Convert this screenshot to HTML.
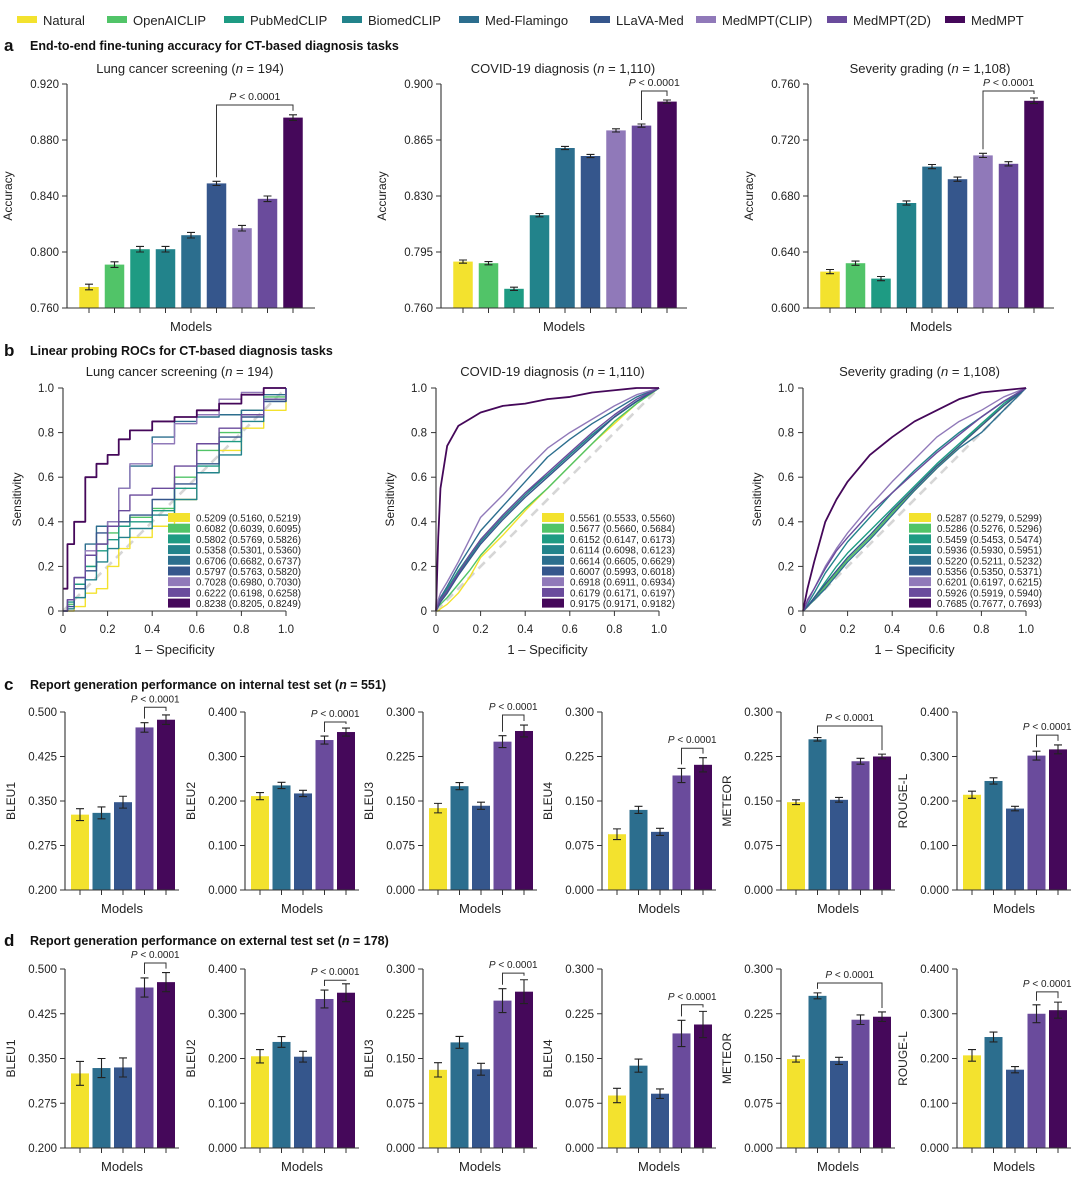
<!DOCTYPE html>
<html><head><meta charset="utf-8"><style>
body{margin:0;background:#fff;width:1080px;height:1180px;overflow:hidden}
svg{display:block;font-family:"Liberation Sans",sans-serif}
</style></head><body>
<svg id="fig" width="1080" height="1180" viewBox="0 0 1080 1180"></svg>
<script>
// ---------- DATA ----------
const modelNames = ["Natural","OpenAICLIP","PubMedCLIP","BiomedCLIP","Med-Flamingo","LLaVA-Med","MedMPT(CLIP)","MedMPT(2D)","MedMPT"];
const modelColors = ["#f3e22e","#51c468","#1e9b83","#22838b","#2c6e8e","#35568c","#9079b9","#6a4b9c","#45085a"];
// panel a
const lungAcc = [0.775,0.791,0.802,0.802,0.812,0.849,0.817,0.838,0.896];
const lungErr = [0.002,0.002,0.002,0.002,0.002,0.0015,0.002,0.002,0.002];
const covidAcc = [0.789,0.788,0.772,0.818,0.860,0.855,0.871,0.874,0.889];
const covidErr = [0.001,0.001,0.001,0.001,0.001,0.001,0.001,0.001,0.001];
const sevAcc = [0.626,0.632,0.621,0.675,0.701,0.692,0.709,0.703,0.748];
const sevErr = [0.0015,0.0015,0.0015,0.0015,0.0015,0.0015,0.0015,0.0015,0.002];
// panel c/d (models: Natural, Med-Flamingo, LLaVA-Med, MedMPT(2D), MedMPT)
const reportModels = [0,4,5,7,8];
const cBLEU1=[0.327,0.330,0.348,0.474,0.487], cBLEU1e=[0.010,0.010,0.010,0.008,0.008];
const cBLEU2=[0.211,0.235,0.217,0.337,0.355], cBLEU2e=[0.008,0.007,0.007,0.009,0.009];
const cBLEU3=[0.138,0.175,0.142,0.250,0.268], cBLEU3e=[0.008,0.006,0.006,0.010,0.010];
const cBLEU4=[0.094,0.135,0.098,0.193,0.211], cBLEU4e=[0.009,0.006,0.006,0.012,0.012];
const cMET=[0.148,0.254,0.152,0.217,0.225], cMETe=[0.004,0.003,0.004,0.005,0.004];
const cROU=[0.214,0.245,0.183,0.302,0.316], cROUe=[0.008,0.007,0.005,0.010,0.010];
const dBLEU1=[0.325,0.334,0.335,0.469,0.478], dBLEU1e=[0.020,0.016,0.016,0.016,0.016];
const dBLEU2=[0.205,0.237,0.204,0.333,0.347], dBLEU2e=[0.015,0.012,0.012,0.020,0.020];
const dBLEU3=[0.131,0.177,0.132,0.247,0.262], dBLEU3e=[0.012,0.010,0.010,0.020,0.020];
const dBLEU4=[0.088,0.138,0.091,0.192,0.207], dBLEU4e=[0.012,0.011,0.008,0.022,0.022];
const dMET=[0.149,0.255,0.146,0.215,0.220], dMETe=[0.005,0.005,0.006,0.008,0.008];
const dROU=[0.207,0.248,0.175,0.300,0.308], dROUe=[0.013,0.011,0.007,0.020,0.018];
// panel b ROC
const lungFpr=[0,.02,.05,.1,.15,.2,.25,.3,.4,.5,.6,.7,.8,.9,1];
const lungTpr=[
 [0,0,0.02,0.08,0.1,0.2,0.28,0.33,0.38,0.5,0.62,0.72,0.82,0.9,1],
 [0,0.03,0.1,0.2,0.3,0.35,0.4,0.42,0.46,0.6,0.72,0.8,0.9,0.96,1],
 [0,0.04,0.12,0.2,0.27,0.32,0.38,0.4,0.45,0.55,0.65,0.76,0.88,0.95,1],
 [0,0.01,0.06,0.14,0.22,0.28,0.33,0.37,0.43,0.5,0.62,0.7,0.85,0.94,1],
 [0,0.05,0.15,0.3,0.38,0.4,0.55,0.65,0.78,0.85,0.87,0.88,0.9,0.97,1],
 [0,0.02,0.1,0.18,0.35,0.38,0.4,0.43,0.5,0.57,0.66,0.78,0.87,0.94,1],
 [0,0.05,0.15,0.27,0.3,0.4,0.55,0.66,0.75,0.84,0.88,0.95,0.98,1,1],
 [0,0.05,0.15,0.25,0.3,0.38,0.45,0.52,0.55,0.65,0.75,0.82,0.88,0.95,1],
 [0.1,0.3,0.4,0.6,0.66,0.7,0.77,0.81,0.85,0.87,0.9,0.93,0.97,1,1]];
const lungAuc=["0.5209 (0.5160, 0.5219)","0.6082 (0.6039, 0.6095)","0.5802 (0.5769, 0.5826)","0.5358 (0.5301, 0.5360)","0.6706 (0.6682, 0.6737)","0.5797 (0.5763, 0.5820)","0.7028 (0.6980, 0.7030)","0.6222 (0.6198, 0.6258)","0.8238 (0.8205, 0.8249)"];
const smoothFpr=[0,.01,.02,.05,.1,.15,.2,.3,.4,.5,.6,.7,.8,.9,1];
const covidTpr=[
 [0,0,0.01,0.03,0.08,0.15,0.24,0.34,0.45,0.55,0.65,0.75,0.84,0.93,1],
 [0,0.02,0.03,0.06,0.12,0.18,0.25,0.36,0.46,0.55,0.65,0.75,0.85,0.93,1],
 [0,0.03,0.05,0.1,0.18,0.25,0.32,0.43,0.53,0.61,0.7,0.79,0.87,0.94,1],
 [0,0.03,0.05,0.09,0.17,0.24,0.31,0.42,0.52,0.61,0.7,0.79,0.87,0.94,1],
 [0,0.04,0.06,0.11,0.2,0.28,0.36,0.47,0.58,0.69,0.77,0.84,0.9,0.96,1],
 [0,0.02,0.04,0.08,0.16,0.23,0.3,0.41,0.51,0.6,0.69,0.78,0.87,0.94,1],
 [0,0.05,0.08,0.13,0.22,0.32,0.42,0.52,0.63,0.73,0.8,0.86,0.92,0.97,1],
 [0,0.03,0.05,0.09,0.17,0.25,0.32,0.43,0.53,0.62,0.71,0.8,0.88,0.95,1],
 [0,0.33,0.55,0.74,0.83,0.86,0.89,0.92,0.93,0.95,0.96,0.98,0.99,1,1]];
const covidAuc=["0.5561 (0.5533, 0.5560)","0.5677 (0.5660, 0.5684)","0.6152 (0.6147, 0.6173)","0.6114 (0.6098, 0.6123)","0.6614 (0.6605, 0.6629)","0.6007 (0.5993, 0.6018)","0.6918 (0.6911, 0.6934)","0.6179 (0.6171, 0.6197)","0.9175 (0.9171, 0.9182)"];
const sevTpr=[
 [0,0.01,0.02,0.05,0.11,0.17,0.23,0.33,0.44,0.54,0.64,0.74,0.83,0.92,1],
 [0,0.01,0.02,0.05,0.11,0.17,0.23,0.33,0.44,0.55,0.65,0.74,0.84,0.92,1],
 [0,0.01,0.02,0.06,0.13,0.2,0.26,0.36,0.46,0.56,0.66,0.75,0.84,0.93,1],
 [0,0.01,0.03,0.08,0.17,0.24,0.31,0.42,0.53,0.63,0.72,0.8,0.87,0.94,1],
 [0,0.01,0.02,0.05,0.1,0.16,0.22,0.32,0.43,0.54,0.64,0.73,0.8,0.9,1],
 [0,0.01,0.02,0.06,0.12,0.18,0.24,0.34,0.45,0.55,0.65,0.74,0.83,0.92,1],
 [0,0.02,0.04,0.1,0.2,0.28,0.35,0.47,0.58,0.68,0.78,0.85,0.9,0.96,1],
 [0,0.02,0.05,0.1,0.19,0.27,0.33,0.44,0.53,0.62,0.71,0.79,0.87,0.94,1],
 [0,0.05,0.1,0.22,0.4,0.5,0.58,0.7,0.78,0.85,0.9,0.95,0.98,0.99,1]];
const sevAuc=["0.5287 (0.5279, 0.5299)","0.5286 (0.5276, 0.5296)","0.5459 (0.5453, 0.5474)","0.5936 (0.5930, 0.5951)","0.5220 (0.5211, 0.5232)","0.5356 (0.5350, 0.5371)","0.6201 (0.6197, 0.6215)","0.5926 (0.5919, 0.5940)","0.7685 (0.7677, 0.7693)"];
const rocTicks=[0,0.2,0.4,0.6,0.8,1.0];
const rocTickLabels=["0","0.2","0.4","0.6","0.8","1.0"];

// ---------- HELPERS ----------
const NS="http://www.w3.org/2000/svg";
const svg=document.getElementById('fig');
function mk(tag,attrs,parent){const e=document.createElementNS(NS,tag);for(const k in attrs)e.setAttribute(k,attrs[k]);(parent||svg).appendChild(e);return e;}
function txt(s,x,y,attrs,parent){const e=mk('text',Object.assign({x:x,y:y,'font-size':12,fill:'#222'},attrs||{}),parent);e.textContent=s;return e;}
function pText(x,y,parent,size){const t=mk('text',{x:x,y:y,'font-size':size||10.5,'text-anchor':'middle',fill:'#222'},parent);
 const a=mk('tspan',{'font-style':'italic'},t);a.textContent='P';const b=mk('tspan',{},t);b.textContent=' < 0.0001';return t;}

// ---------- TOP LEGEND ----------
const legX=[17,107,224,342,459,590,696,827,945];
const legG=mk('g',{});


modelNames.forEach((n,i)=>{
 const g=mk('g',{},legG);
 
 
 mk('rect',{x:legX[i],y:16,width:20,height:7,fill:modelColors[i]},g);
 txt(n,legX[i]+26,25,{'font-size':13},g);
});

// section headers
function header(letter,title,y,extra){
 const g=mk('g',{});
 
 
 txt(letter,4,y+4,{'font-size':17,'font-weight':'bold',fill:'#111'},g);
 const t=mk('text',{x:30,y:y+3,'font-size':12.5,'font-weight':'bold',fill:'#111'},g);
 t.textContent=title;
 if(extra){const a=mk('tspan',{'font-style':'italic'},t);a.textContent='n';const b=mk('tspan',{},t);b.textContent=' = '+extra+')';}
}
header('a','End-to-end fine-tuning accuracy for CT-based diagnosis tasks',47);
header('b','Linear probing ROCs for CT-based diagnosis tasks',352);
header('c','Report generation performance on internal test set (',686,'551');
header('d','Report generation performance on external test set (',942,'178');

function chartTitle(s,n,cx,y,parent){
 const t=mk('text',{x:cx,y:y,'font-size':13,'text-anchor':'middle',fill:'#222'},parent);
 const a=mk('tspan',{},t);a.textContent=s+' (';const b=mk('tspan',{'font-style':'italic'},t);b.textContent='n';
 const c=mk('tspan',{},t);c.textContent=' = '+n+')';
}

// ---------- BAR CHART ----------
function barChart(o){
 const g=mk('g',{});
 
 
 const ys=v=>o.yBot-(v-o.min)/(o.max-o.min)*(o.yBot-o.yTop);
 const xs=i=>o.x0+o.off+i*o.sp;
 // bars
 o.values.forEach((v,i)=>{
  const r=mk('rect',{x:xs(i)-o.bw/2,y:ys(v),width:o.bw,height:o.yBot-ys(v),fill:modelColors[o.models[i]]},g);
  
  
  const e=o.errs[i],cx=xs(i);
  const eb=mk('path',{d:`M${cx},${ys(v+e)}V${ys(v-e)}M${cx-4},${ys(v+e)}H${cx+4}M${cx-4},${ys(v-e)}H${cx+4}`,stroke:'#222','stroke-width':1.1,fill:'none'},g);
  
  
  mk('line',{x1:cx,x2:cx,y1:o.yBot,y2:o.yBot+5,stroke:'#333','stroke-width':1},g);
 });
 // axes
 const ax=mk('path',{d:`M${o.x0},${o.yTop}V${o.yBot}H${o.x0+o.len}`,stroke:'#333','stroke-width':1.1,fill:'none'},g);
 
 
 o.ticks.forEach((t,k)=>{
  const y=ys(t);
  mk('line',{x1:o.x0-5,x2:o.x0,y1:y,y2:y,stroke:'#333','stroke-width':1},g);
  const l=txt(o.tickLabels[k],o.x0-8,y+4,{'font-size':11.5,'text-anchor':'end'},g);
  
  
 });
 const yl=txt(o.ylabel,0,0,{'font-size':12,'text-anchor':'middle',transform:`translate(${o.x0-o.ylOff},${(o.yTop+o.yBot)/2}) rotate(-90)`},g);
 
 
 const xl=txt('Models',o.x0+o.len/2,o.yBot+23,{'font-size':13,'text-anchor':'middle'},g);
 
 
 // bracket
 const [a,b,lev]=o.bracket;
 const yb=ys(lev);
 const br=mk('path',{d:`M${xs(a)},${ys(o.values[a]+o.errs[a])-4}V${yb}H${xs(b)}V${ys(o.values[b]+o.errs[b])-4}`,stroke:'#333','stroke-width':1,fill:'none'},g);
 
 
 const pt=pText((xs(a)+xs(b))/2,yb-5,g,o.pSize||10.5);
 
 
 return g;
}
const allModels=[0,1,2,3,4,5,6,7,8];
const lungG=barChart({name:'lung-accuracy-chart',x0:67,len:248,yTop:84,yBot:308,min:0.76,max:0.92,ticks:[0.76,0.8,0.84,0.88,0.92],tickLabels:["0.760","0.800","0.840","0.880","0.920"],values:lungAcc,errs:lungErr,models:allModels,off:22,sp:25.5,bw:19.5,ylabel:'Accuracy',ylOff:55,bracket:[5,8,0.905]});
chartTitle('Lung cancer screening','194',190,73,lungG);
const covG=barChart({name:'covid-accuracy-chart',x0:441,len:246,yTop:84,yBot:308,min:0.76,max:0.9,ticks:[0.76,0.795,0.83,0.865,0.9],tickLabels:["0.760","0.795","0.830","0.865","0.900"],values:covidAcc,errs:covidErr,models:allModels,off:22,sp:25.5,bw:19.5,ylabel:'Accuracy',ylOff:55,bracket:[7,8,0.8956]});
chartTitle('COVID-19 diagnosis','1,110',563,73,covG);
const sevG=barChart({name:'severity-accuracy-chart',x0:808,len:246,yTop:84,yBot:308,min:0.6,max:0.76,ticks:[0.6,0.64,0.68,0.72,0.76],tickLabels:["0.600","0.640","0.680","0.720","0.760"],values:sevAcc,errs:sevErr,models:allModels,off:22,sp:25.5,bw:19.5,ylabel:'Accuracy',ylOff:55,bracket:[6,8,0.755]});
chartTitle('Severity grading','1,108',930,73,sevG);

// panels c and d
const repX=[65,245,423,602,781,957];
const repCfg=[
 {lab:'BLEU1',min:0.2,max:0.5,ticks:[0.2,0.275,0.35,0.425,0.5],tl:["0.200","0.275","0.350","0.425","0.500"]},
 {lab:'BLEU2',min:0,max:0.4,ticks:[0,0.1,0.2,0.3,0.4],tl:["0.000","0.100","0.200","0.300","0.400"]},
 {lab:'BLEU3',min:0,max:0.3,ticks:[0,0.075,0.15,0.225,0.3],tl:["0.000","0.075","0.150","0.225","0.300"]},
 {lab:'BLEU4',min:0,max:0.3,ticks:[0,0.075,0.15,0.225,0.3],tl:["0.000","0.075","0.150","0.225","0.300"]},
 {lab:'METEOR',min:0,max:0.3,ticks:[0,0.075,0.15,0.225,0.3],tl:["0.000","0.075","0.150","0.225","0.300"]},
 {lab:'ROUGE-L',min:0,max:0.4,ticks:[0,0.1,0.2,0.3,0.4],tl:["0.000","0.100","0.200","0.300","0.400"]}];
const cVals=[cBLEU1,cBLEU2,cBLEU3,cBLEU4,cMET,cROU], cErrs=[cBLEU1e,cBLEU2e,cBLEU3e,cBLEU4e,cMETe,cROUe];
const dVals=[dBLEU1,dBLEU2,dBLEU3,dBLEU4,dMET,dROU], dErrs=[dBLEU1e,dBLEU2e,dBLEU3e,dBLEU4e,dMETe,dROUe];
const cBr=[[3,4,0.508],[3,4,0.3775],[3,4,0.295],[3,4,0.239],[1,4,0.2764],[3,4,0.348]];
const dBr=[[3,4,0.51],[3,4,0.375],[3,4,0.293],[3,4,0.24],[1,4,0.2765],[3,4,0.349]];
repCfg.forEach((c,k)=>{
 barChart({name:'internal-'+c.lab.toLowerCase()+'-chart',x0:repX[k],len:114,yTop:712,yBot:890,min:c.min,max:c.max,ticks:c.ticks,tickLabels:c.tl,values:cVals[k],errs:cErrs[k],models:reportModels,off:15,sp:21.5,bw:18,ylabel:c.lab,ylOff:50,bracket:cBr[k],pSize:10});
 barChart({name:'external-'+c.lab.toLowerCase()+'-chart',x0:repX[k],len:114,yTop:969,yBot:1148,min:c.min,max:c.max,ticks:c.ticks,tickLabels:c.tl,values:dVals[k],errs:dErrs[k],models:reportModels,off:15,sp:21.5,bw:18,ylabel:c.lab,ylOff:50,bracket:dBr[k],pSize:10});
});

// ---------- ROC ----------
function roc(o){
 const g=mk('g',{});
 
 
 const x0=o.x0,x1=o.x0+223,y0=611,y1=388;
 const xs=v=>x0+v*(x1-x0), ys=v=>y0-v*(y0-y1);
 const dg=mk('line',{x1:xs(0),y1:ys(0),x2:xs(1),y2:ys(1),stroke:'#d6d6d6','stroke-width':2.6,'stroke-dasharray':'9,6'},g);
 
 
 o.tpr.forEach((arr,i)=>{
  let d='';
  arr.forEach((t,j)=>{
   const X=xs(o.fpr[j]),Y=ys(t);
   if(j===0)d+=`M${X},${Y}`;
   else if(o.step)d+=`H${X}V${Y}`;
   else d+=`L${X},${Y}`;
  });
  const p=mk('path',{d:d,stroke:modelColors[i],'stroke-width':i===8?1.8:1.4,fill:'none','stroke-linejoin':'round'},g);
  
  
 });
 const ax=mk('path',{d:`M${x0},${y1}V${y0}H${x1}`,stroke:'#333','stroke-width':1.1,fill:'none'},g);
 
 
 rocTicks.forEach((t,k)=>{
  mk('line',{x1:x0-5,x2:x0,y1:ys(t),y2:ys(t),stroke:'#333'},g);
  mk('line',{x1:xs(t),x2:xs(t),y1:y0,y2:y0+5,stroke:'#333'},g);
  const a=txt(rocTickLabels[k],x0-9,ys(t)+4,{'font-size':11.5,'text-anchor':'end'},g);
  
  
  const b=txt(rocTickLabels[k],xs(t),y0+22,{'font-size':11.5,'text-anchor':'middle'},g);
  
  
 });
 const yl=txt('Sensitivity',0,0,{'font-size':12,'text-anchor':'middle',transform:`translate(${x0-42},${(y0+y1)/2}) rotate(-90)`},g);
 
 
 const xl=txt('1 – Specificity',(x0+x1)/2,654,{'font-size':13,'text-anchor':'middle'},g);
 
 
 chartTitle(o.title,o.n,(x0+x1)/2+5,376,g);
 const lg=mk('g',{},g);
 
 
 o.auc.forEach((s,i)=>{
  const e=mk('g',{},lg);
  
  
  mk('rect',{x:o.lx,y:513+i*10.7,width:22,height:9,fill:modelColors[i]},e);
  txt(s,o.lx+28,521.5+i*10.7,{'font-size':10.5,textLength:105,lengthAdjust:'spacingAndGlyphs'},e);
 });
}
roc({name:'lung-roc-chart',x0:63,fpr:lungFpr,tpr:lungTpr,auc:lungAuc,step:true,title:'Lung cancer screening',n:'194',lx:168});
roc({name:'covid-roc-chart',x0:436,fpr:smoothFpr,tpr:covidTpr,auc:covidAuc,step:false,title:'COVID-19 diagnosis',n:'1,110',lx:542});
roc({name:'severity-roc-chart',x0:803,fpr:smoothFpr,tpr:sevTpr,auc:sevAuc,step:false,title:'Severity grading',n:'1,108',lx:909});
</script>
</body></html>
